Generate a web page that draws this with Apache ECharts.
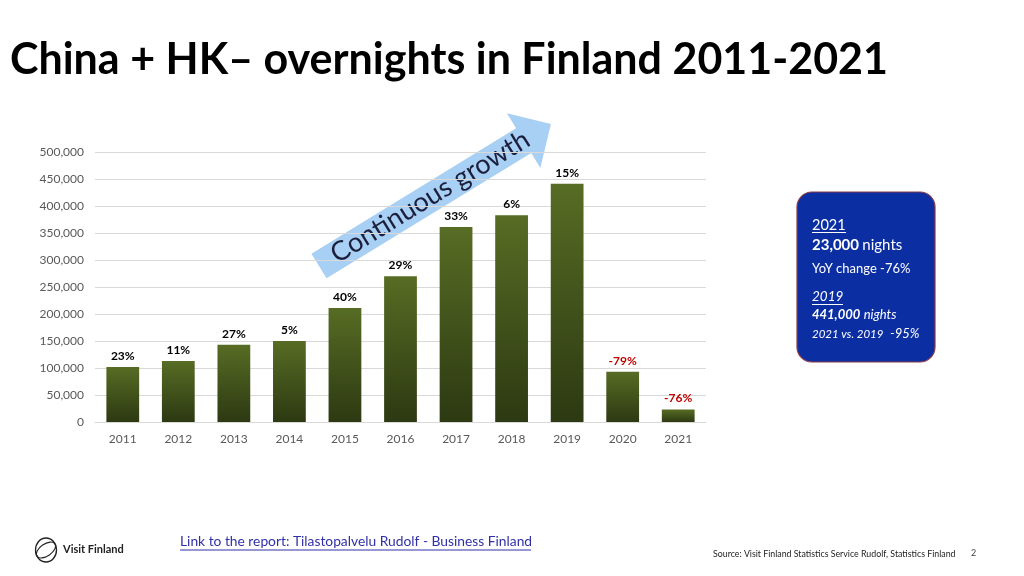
<!DOCTYPE html>
<html>
<head>
<meta charset="utf-8">
<script src="https://cdn.jsdelivr.net/npm/echarts@6/dist/echarts.min.js"></script>
<style>
  html, body { margin: 0; padding: 0; background: #fff; }
  #chart { width: 1024px; height: 576px; }
</style>
</head>
<body>
<div id="chart"></div>
<script>
const years = ['2011', '2012', '2013', '2014', '2015', '2016', '2017', '2018', '2019', '2020', '2021']
const overnights = [102000, 113000, 143000, 150000, 211000, 270000, 361000, 383000, 441000, 93000, 23000]
const yoyChange = ['23%', '11%', '27%', '5%', '40%', '29%', '33%', '6%', '15%', '-79%', '-76%']
const yMax = 500000
const yInterval = 50000

const font = 'Lato, "Open Sans", sans-serif'

const chart = echarts.init(document.getElementById('chart'))

chart.setOption({
  animation: false,
  grid: {
    left: 95,
    right: 318,
    top: 152,
    bottom: 154
  },
  xAxis: {
    type: 'category',
    data: years,
    axisTick: { show: false },
    axisLine: { lineStyle: { color: '#d9d9d9' } },
    axisLabel: {
      color: '#595959',
      fontSize: 12,
      fontFamily: font,
      margin: 11
    }
  },
  yAxis: {
    type: 'value',
    min: 0,
    max: yMax,
    interval: yInterval,
    axisLine: { show: false },
    axisTick: { show: false },
    splitLine: { lineStyle: { color: '#d9d9d9' } },
    axisLabel: {
      color: '#595959',
      fontSize: 12,
      fontFamily: font,
      margin: 11,
      formatter: v => v.toLocaleString('en-US')
    }
  },
  series: [{
    type: 'bar',
    barWidth: '59%',
    data: overnights.map((v, i) => ({
      value: v,
      label: { color: yoyChange[i].startsWith('-') ? '#c00000' : '#000' }
    })),
    itemStyle: {
      color: new echarts.graphic.LinearGradient(0, 0, 0, 1, [
        { offset: 0, color: '#576c24' },
        { offset: 1, color: '#2d3912' }
      ])
    },
    label: {
      show: true,
      position: 'top',
      distance: 5,
      fontWeight: 'bold',
      fontSize: 12,
      fontFamily: font,
      formatter: p => yoyChange[p.dataIndex]
    }
  }],
  graphic: [
    // title
    {
      type: 'text',
      left: 10,
      top: 39,
      style: {
        text: 'China + HK\u2013 overnights in Finland 2011-2021',
        font: 'bold 43px ' + font,
        fill: '#000'
      }
    },
    // arrow "Continuous growth"
    {
      type: 'group',
      x: 319,
      y: 266,
      rotation: 31.5 * Math.PI / 180,
      children: [
        {
          type: 'polygon',
          shape: {
            points: [[0, -14.5], [240, -14.5], [240, -32], [272, 0], [240, 32], [240, 14.5], [0, 14.5]]
          },
          style: { fill: '#a8cff4' }
        },
        {
          type: 'text',
          x: 131,
          y: -1,
          style: {
            text: 'Continuous growth',
            font: '27px ' + font,
            fill: '#1b1f3b',
            align: 'center',
            verticalAlign: 'middle'
          }
        }
      ]
    },
    // info box
    {
      type: 'rect',
      shape: { x: 797, y: 192, width: 138, height: 170, r: 15 },
      style: { fill: '#0b2fa3', stroke: '#8c3b45', lineWidth: 1.2 }
    },
    {
      type: 'text', x: 812, y: 225,
      style: { text: '2021', font: '14.5px ' + font, fill: '#fff', verticalAlign: 'middle' }
    },
    {
      type: 'line', shape: { x1: 812, y1: 232.5, x2: 846, y2: 232.5 },
      style: { stroke: '#fff', lineWidth: 1 }
    },
    {
      type: 'text', x: 812, y: 245,
      style: {
        text: '{b|23,000} {n|nights}',
        verticalAlign: 'middle',
        rich: {
          b: { font: 'bold 15px ' + font, fill: '#fff' },
          n: { font: '15px ' + font, fill: '#fff' }
        }
      }
    },
    {
      type: 'text', x: 812, y: 269,
      style: { text: 'YoY change -76%', font: '13px ' + font, fill: '#fff', verticalAlign: 'middle' }
    },
    {
      type: 'text', x: 812, y: 297,
      style: { text: '2019', font: 'italic 13.5px ' + font, fill: '#fff', verticalAlign: 'middle' }
    },
    {
      type: 'line', shape: { x1: 812, y1: 304.5, x2: 843, y2: 304.5 },
      style: { stroke: '#fff', lineWidth: 1 }
    },
    {
      type: 'text', x: 812, y: 315,
      style: {
        text: '{b|441,000} {n|nights}',
        verticalAlign: 'middle',
        rich: {
          b: { font: 'italic bold 13px ' + font, fill: '#fff' },
          n: { font: 'italic 13px ' + font, fill: '#fff' }
        }
      }
    },
    {
      type: 'text', x: 812, y: 334,
      style: {
        text: '{s|2021 vs. 2019}  {p|-95%}',
        verticalAlign: 'middle',
        rich: {
          s: { font: 'italic 11.5px ' + font, fill: '#fff' },
          p: { font: 'italic 13px ' + font, fill: '#fff' }
        }
      }
    },
    // footer logo
    {
      type: 'ellipse',
      shape: { cx: 46, cy: 550, rx: 10.5, ry: 12 },
      style: { fill: 'none', stroke: '#222', lineWidth: 1.3 }
    },
    {
      type: 'ellipse',
      x: 46, y: 550, rotation: 0.6,
      shape: { cx: 0, cy: 0, rx: 11, ry: 6 },
      style: { fill: 'none', stroke: '#222', lineWidth: 1.1 }
    },
    {
      type: 'text', x: 63, y: 549,
      style: { text: 'Visit Finland', font: 'bold 11px ' + font, fill: '#222', verticalAlign: 'middle' }
    },
    // footer link
    {
      type: 'text', x: 180, y: 542,
      style: {
        text: 'Link to the report: Tilastopalvelu Rudolf - Business Finland',
        font: '13.8px ' + font, fill: '#3030a8', verticalAlign: 'middle'
      }
    },
    {
      type: 'line', shape: { x1: 180, y1: 550, x2: 531, y2: 550 },
      style: { stroke: '#3030a8', lineWidth: 1 }
    },
    // source + page number
    {
      type: 'text', x: 713, y: 554,
      style: {
        text: 'Source: Visit Finland Statistics Service Rudolf, Statistics Finland',
        font: '8.8px ' + font, fill: '#222', verticalAlign: 'middle'
      }
    },
    {
      type: 'text', x: 971, y: 553,
      style: { text: '2', font: '9px ' + font, fill: '#444', verticalAlign: 'middle' }
    }
  ]
})
</script>
</body>
</html>
